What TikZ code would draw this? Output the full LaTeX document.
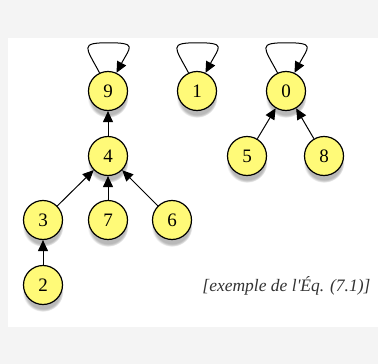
\documentclass[tikz,border=0pt]{standalone}
\usepackage{fontspec}
\setmainfont{Liberation Serif}
\usetikzlibrary{arrows.meta,shadows}
\definecolor{nodeyellow}{RGB}{255,250,120}
\definecolor{pagegray}{RGB}{244,244,244}
\begin{document}
\begin{tikzpicture}[x=1pt,y=-1pt,
	vertex/.style={draw,line width=1.2pt,circle,minimum size=39pt,inner sep=0pt,fill=nodeyellow,
		font=\fontsize{19}{21}\selectfont,
		circular drop shadow={shadow xshift=0pt,shadow yshift=-6pt,opacity=0.55,shadow scale=1.05}},
	parent/.style={line width=1pt,-{Triangle[length=11pt,width=10pt]}}]
	\fill[pagegray] (0,0) rectangle (378,364);
	\fill[white] (8,38) rectangle (378,327);
	\useasboundingbox (0,0) rectangle (378,364);

	\node[vertex] at (108,91) (n9) {9};
	\node[vertex] at (197,91) (n1) {1};
	\node[vertex] at (286,91) (n0) {0};
	\node[vertex] at (108,156) (n4) {4};
	\node[vertex] at (247,156) (n5) {5};
	\node[vertex] at (324,156) (n8) {8};
	\node[vertex] at (43,220) (n3) {3};
	\node[vertex] at (108,220) (n7) {7};
	\node[vertex] at (172,220) (n6) {6};
	\node[vertex] at (43,285) (n2) {2};

	\foreach \r in {n9,n1,n0}
		\draw[parent] (\r.115) to[out=118,in=180,looseness=2.4] ++(9,-30)
			to[out=0,in=62,looseness=2.4] (\r.65);
	\draw[parent]	(n4) -- (n9);
	\draw[parent]	(n3) -- (n4);
	\draw[parent]	(n7) -- (n4);
	\draw[parent]	(n6) -- (n4);
	\draw[parent]	(n2) -- (n3);
	\draw[parent]	(n5) -- (n0);
	\draw[parent]	(n8) -- (n0);

	\node[anchor=east,font=\fontsize{17.5}{20}\selectfont\itshape,text=black!80] at (374,286) (caption) {[exemple de l\textquotesingle Éq. (7.1)]};
\end{tikzpicture}
\end{document}
